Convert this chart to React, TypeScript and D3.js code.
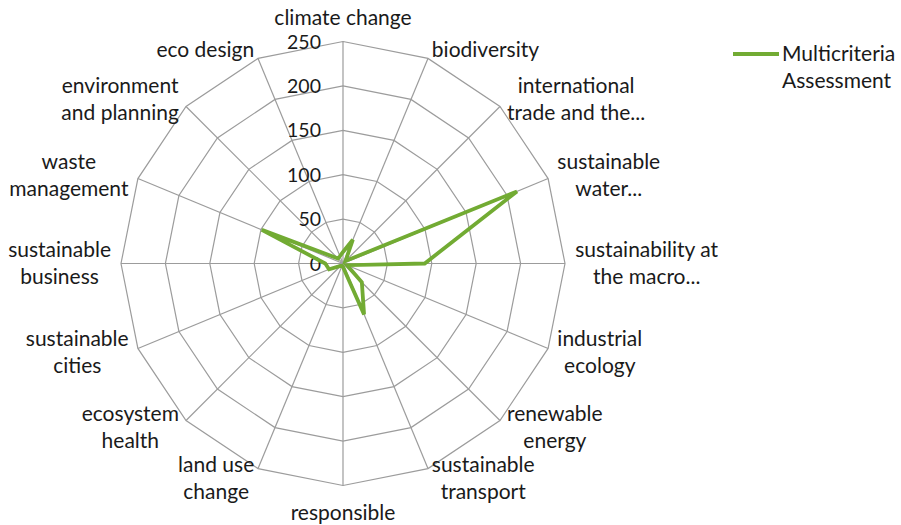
import React, { useEffect, useRef } from 'react';
import * as d3 from 'd3';

const categories = [
  'climate change',
  'biodiversity',
  'international\ntrade and the...',
  'sustainable\nwater...',
  'sustainability at\nthe macro...',
  'industrial\necology',
  'renewable\nenergy',
  'sustainable\ntransport',
  'responsible',
  'land use\nchange',
  'ecosystem\nhealth',
  'sustainable\ncities',
  'sustainable\nbusiness',
  'waste\nmanagement',
  'environment\nand planning',
  'eco design',
];

const assessment = [13, 29, 4, 212, 92, 5, 30, 62, 4, 3, 4, 17, 20, 99, 8, 9];

const ticks = [0, 50, 100, 150, 200, 250];

const seriesName = ['Multicriteria', 'Assessment'];

const App = () => {
  const ref = useRef<SVGSVGElement | null>(null);

  useEffect(() => {
    drawChart();
  }, []);

  const drawChart = () => {
    const svg = d3.select(ref.current);
    svg.selectAll('*').remove();

    const cx = 343;
    const cy = 263.5;
    const R = 222;
    const green = '#72ab33';
    const grid = '#9c9c9c';
    const font = 'Lato, Calibri, sans-serif';
    const lineH = 27;
    const ink = '#1a1a1a';

    const r = d3.scaleLinear().domain([0, 250]).range([0, R]);
    const angle = d3.scaleLinear().domain([0, categories.length]).range([0, 2 * Math.PI]);

    const g = svg.append('g').attr('transform', `translate(${cx},${cy})`);

    const ring = d3.lineRadial<number>()
      .angle((_, i) => angle(i))
      .radius(d => r(d))
      .curve(d3.curveLinearClosed);

    // grid rings
    g.selectAll('.ring')
      .data(ticks.filter(t => t > 0))
      .enter().append('path')
      .attr('class', 'ring')
      .attr('d', t => ring(categories.map(() => t)))
      .attr('fill', 'none')
      .attr('stroke', grid)
      .attr('stroke-width', 1.2);

    // spokes
    g.selectAll('.spoke')
      .data(categories)
      .enter().append('line')
      .attr('class', 'spoke')
      .attr('x1', 0).attr('y1', 0)
      .attr('x2', (_, i) => R * Math.sin(angle(i)))
      .attr('y2', (_, i) => -R * Math.cos(angle(i)))
      .attr('stroke', grid)
      .attr('stroke-width', 1.2);

    // tick labels
    g.selectAll('.tick')
      .data(ticks)
      .enter().append('text')
      .attr('class', 'tick')
      .attr('x', -22)
      .attr('y', t => -r(t))
      .attr('dy', '0.36em')
      .attr('text-anchor', 'end')
      .attr('font-family', font)
      .attr('font-size', 19.5)
      .attr('fill', ink)
      .text(t => t);

    // series line
    g.append('path')
      .attr('d', ring(assessment))
      .attr('fill', 'none')
      .attr('stroke', green)
      .attr('stroke-width', 3.8)
      .attr('stroke-linejoin', 'miter');

    // category labels
    const labelR = R + 10;
    categories.forEach((c, i) => {
      const a = angle(i);
      const s = Math.sin(a);
      const co = Math.cos(a);
      const px = labelR * s;
      const py = -labelR * co;
      const lines = c.split('\n');
      const t = g.append('text')
        .attr('font-family', font)
        .attr('font-size', 21)
        .attr('fill', ink)
        .attr('text-anchor', 'middle');
      lines.forEach((l, j) => {
        t.append('tspan').attr('x', 0).attr('y', (j - (lines.length - 1) / 2) * lineH).attr('dy', '0.35em').text(l);
      });
      const w = (t.node() as SVGTextElement).getBBox().width;
      const h = lines.length * lineH;
      let x = px;
      if (s > 0.05) x = px + w / 2;
      else if (s < -0.05) x = px - w / 2;
      let y = py;
      if (Math.abs(s) <= 0.05) y = co > 0 ? py - h / 2 : py + h / 2 + 4;
      t.attr('transform', `translate(${x},${y})`);
    });

    // legend
    const lg = svg.append('g').attr('transform', 'translate(733,54)');
    lg.append('line')
      .attr('x1', 0).attr('x2', 46)
      .attr('y1', 0).attr('y2', 0)
      .attr('stroke', green)
      .attr('stroke-width', 3.8);
    lg.append('text')
      .attr('font-family', font)
      .attr('font-size', 21)
      .attr('fill', ink)
      .selectAll('tspan')
      .data(seriesName)
      .enter().append('tspan')
      .attr('x', 49)
      .attr('y', (_, j) => j * lineH)
      .attr('dy', '0.35em')
      .text(d => d);
  };

  return (
    <div style={{ position: 'absolute', left: 0, top: 0 }}>
      <svg ref={ref} width={901} height={525} style={{ display: 'block', background: '#fff' }} />
    </div>
  );
};

export default App;
